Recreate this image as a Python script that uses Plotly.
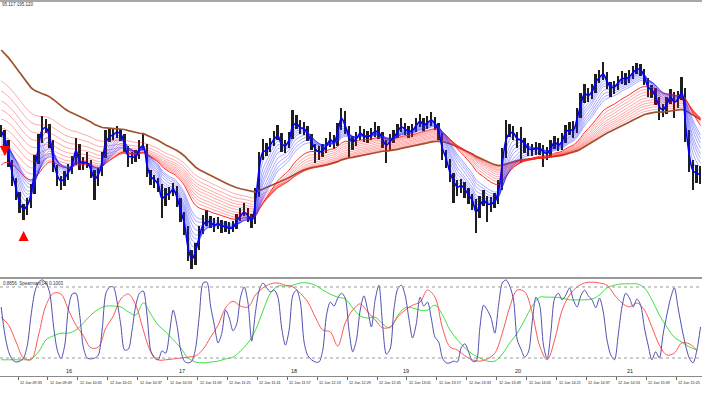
import plotly.graph_objects as go

# ---------------- data ----------------
first_bar = "09:24"      # first visible 2-minute bar
bar_step = 2             # minutes per bar

closes = [195.168, 195.158, 195.138, 195.120, 195.106, 195.092, 195.089, 195.096, 195.110, 195.140,
          195.160, 195.176, 195.173, 195.158, 195.132, 195.120, 195.117, 195.123, 195.130, 195.138,
          195.154, 195.135, 195.137, 195.137, 195.128, 195.118, 195.127, 195.143, 195.164, 195.165,
          195.166, 195.169, 195.165, 195.152, 195.140, 195.143, 195.143, 195.154, 195.155, 195.128,
          195.120, 195.119, 195.114, 195.097, 195.106, 195.107, 195.112, 195.100, 195.085, 195.072,
          195.044, 195.037, 195.052, 195.068, 195.079, 195.080, 195.077, 195.074, 195.077, 195.073,
          195.073, 195.071, 195.073, 195.081, 195.086, 195.089, 195.083, 195.078, 195.105, 195.142,
          195.154, 195.150, 195.157, 195.163, 195.165, 195.153, 195.154, 195.162, 195.179, 195.177,
          195.171, 195.171, 195.164, 195.155, 195.149, 195.147, 195.150, 195.156, 195.162, 195.157,
          195.172, 195.186, 195.172, 195.159, 195.157, 195.162, 195.169, 195.163, 195.163, 195.166,
          195.170, 195.167, 195.158, 195.153, 195.160, 195.164, 195.170, 195.175, 195.170, 195.168,
          195.170, 195.176, 195.180, 195.174, 195.178, 195.181, 195.175, 195.165, 195.146, 195.138,
          195.123, 195.116, 195.111, 195.115, 195.109, 195.103, 195.098, 195.084, 195.097, 195.101,
          195.095, 195.096, 195.100, 195.113, 195.145, 195.168, 195.169, 195.167, 195.159, 195.160,
          195.154, 195.150, 195.150, 195.152, 195.151, 195.147, 195.146, 195.154, 195.160, 195.154,
          195.160, 195.171, 195.171, 195.170, 195.185, 195.200, 195.210, 195.204, 195.210, 195.221,
          195.224, 195.227, 195.216, 195.211, 195.213, 195.219, 195.223, 195.221, 195.224, 195.229,
          195.232, 195.230, 195.221, 195.209, 195.209, 195.201, 195.190, 195.189, 195.198, 195.205,
          195.196, 195.202, 195.210, 195.165, 195.135, 195.124, 195.126, 195.125]

highs = [195.175, 195.170, 195.160, 195.140, 195.122, 195.108, 195.096, 195.102, 195.116, 195.145,
         195.166, 195.184, 195.181, 195.176, 195.160, 195.135, 195.124, 195.129, 195.136, 195.144,
         195.162, 195.156, 195.143, 195.148, 195.140, 195.130, 195.132, 195.148, 195.170, 195.171,
         195.172, 195.174, 195.171, 195.166, 195.154, 195.148, 195.150, 195.160, 195.167, 195.156,
         195.130, 195.125, 195.122, 195.116, 195.112, 195.113, 195.117, 195.114, 195.102, 195.088,
         195.074, 195.050, 195.057, 195.074, 195.085, 195.090, 195.084, 195.082, 195.083, 195.080,
         195.079, 195.078, 195.079, 195.086, 195.092, 195.097, 195.092, 195.086, 195.112, 195.148,
         195.161, 195.157, 195.162, 195.169, 195.175, 195.167, 195.160, 195.168, 195.190, 195.185,
         195.180, 195.178, 195.174, 195.166, 195.156, 195.154, 195.156, 195.162, 195.168, 195.165,
         195.177, 195.192, 195.189, 195.174, 195.164, 195.168, 195.174, 195.171, 195.169, 195.172,
         195.178, 195.174, 195.168, 195.160, 195.166, 195.170, 195.176, 195.182, 195.177, 195.174,
         195.176, 195.182, 195.186, 195.182, 195.184, 195.188, 195.183, 195.177, 195.167, 195.150,
         195.141, 195.127, 195.120, 195.121, 195.118, 195.112, 195.106, 195.101, 195.104, 195.110,
         195.104, 195.103, 195.107, 195.120, 195.152, 195.180, 195.176, 195.174, 195.168, 195.173,
         195.162, 195.157, 195.156, 195.158, 195.157, 195.155, 195.153, 195.160, 195.164, 195.162,
         195.167, 195.175, 195.178, 195.179, 195.192, 195.207, 195.216, 195.212, 195.216, 195.226,
         195.230, 195.238, 195.228, 195.218, 195.219, 195.224, 195.229, 195.227, 195.230, 195.234,
         195.237, 195.236, 195.231, 195.222, 195.215, 195.212, 195.203, 195.196, 195.203, 195.211,
         195.208, 195.209, 195.223, 195.212, 195.170, 195.140, 195.135, 195.134]

lows = [195.163, 195.153, 195.133, 195.114, 195.100, 195.087, 195.080, 195.085, 195.092, 195.106,
        195.136, 195.157, 195.167, 195.152, 195.128, 195.114, 195.110, 195.114, 195.120, 195.126,
        195.135, 195.130, 195.130, 195.132, 195.122, 195.100, 195.114, 195.124, 195.142, 195.158,
        195.160, 195.162, 195.159, 195.148, 195.133, 195.136, 195.138, 195.141, 195.150, 195.123,
        195.115, 195.112, 195.108, 195.082, 195.094, 195.100, 195.104, 195.093, 195.078, 195.065,
        195.039, 195.031, 195.035, 195.050, 195.066, 195.074, 195.072, 195.068, 195.071, 195.067,
        195.068, 195.066, 195.068, 195.071, 195.079, 195.084, 195.078, 195.072, 195.076, 195.103,
        195.140, 195.144, 195.148, 195.154, 195.160, 195.148, 195.147, 195.152, 195.161, 195.171,
        195.166, 195.165, 195.159, 195.150, 195.137, 195.140, 195.143, 195.147, 195.153, 195.151,
        195.154, 195.170, 195.166, 195.142, 195.150, 195.154, 195.160, 195.158, 195.157, 195.160,
        195.163, 195.161, 195.152, 195.137, 195.150, 195.157, 195.162, 195.168, 195.165, 195.162,
        195.163, 195.168, 195.173, 195.169, 195.171, 195.174, 195.170, 195.160, 195.140, 195.132,
        195.118, 195.097, 195.104, 195.107, 195.102, 195.096, 195.090, 195.067, 195.082, 195.094,
        195.078, 195.088, 195.092, 195.096, 195.110, 195.142, 195.163, 195.160, 195.152, 195.137,
        195.147, 195.144, 195.144, 195.145, 195.145, 195.133, 195.140, 195.143, 195.151, 195.149,
        195.150, 195.157, 195.165, 195.162, 195.167, 195.182, 195.197, 195.198, 195.201, 195.207,
        195.217, 195.220, 195.211, 195.203, 195.206, 195.210, 195.216, 195.215, 195.217, 195.221,
        195.226, 195.224, 195.215, 195.203, 195.202, 195.195, 195.180, 195.183, 195.186, 195.196,
        195.182, 195.192, 195.200, 195.158, 195.128, 195.110, 195.117, 195.116]

# moving averages: periods (1-minute) and their values at the first visible bar
blue_periods = [3, 5, 7, 9, 11, 13, 16, 19, 22, 25]
blue_start = [195.169, 195.167, 195.165, 195.163, 195.161, 195.159, 195.157, 195.155, 195.153, 195.151]
red_periods = [36, 41, 46, 51, 57, 63, 69, 75, 82, 90]
red_start = [195.135, 195.145, 195.154, 195.163, 195.172, 195.181, 195.190, 195.199, 195.209, 195.219]
brown_period = 100
brown_start = 195.250

# signal arrows
signal_times = ["09:26", "09:36"]
signal_prices = [195.144, 195.069]
signal_symbols = ["arrow-down", "arrow-up"]

# Spearman sub-window (blue every 2 min, red & green every 4 min)
spear_fast = [0.35, -0.28, -0.66, -0.84, -0.89, -0.87, -0.80, -0.51, 0.17, 0.69,
              0.91, 0.96, 0.89, 0.66, -0.08, -0.62, -0.82, -0.51, 0.33, 0.64,
              0.66, 0.17, -0.57, -0.80, -0.82, -0.80, -0.73, -0.17, 0.66, 0.80,
              0.80, 0.46, -0.06, -0.62, -0.60, -0.17, 0.39, 0.66, 0.71, 0.17,
              -0.64, -0.80, -0.84, -0.64, -0.69, -0.24, 0.28, -0.06, -0.62, -0.87,
              -0.91, -0.87, -0.57, 0.17, 0.89, 0.91, 0.37, -0.06, -0.46, -0.24,
              0.28, 0.10, -0.19, -0.03, 0.57, 0.80, 0.44, -0.42, 0.24, 0.73,
              0.89, 0.78, 0.69, 0.73, 0.57, -0.12, -0.51, -0.17, 0.62, 0.73,
              0.46, -0.44, -0.75, -0.84, -0.89, -0.89, -0.62, 0.17, 0.46, 0.37,
              0.55, 0.66, 0.55, -0.17, -0.66, -0.39, 0.28, 0.60, 0.28, -0.10,
              0.51, 0.84, -0.06, -0.71, -0.60, 0.28, 0.75, 0.84, 0.62, 0.10,
              -0.35, -0.03, 0.57, 0.37, 0.46, 0.10, -0.33, -0.44, -0.80, -0.91,
              -0.91, -0.87, -0.89, -0.57, -0.48, -0.66, -0.87, -0.87, -0.12, 0.39,
              0.28, 0.10, -0.24, 0.39, 0.89, 0.96, 0.82, 0.51, -0.39, -0.60,
              -0.78, -0.66, 0.01, 0.57, 0.39, -0.51, -0.82, -0.21, 0.55, 0.66,
              0.51, 0.62, 0.78, 0.51, 0.35, 0.60, 0.73, 0.60, 0.51, 0.33,
              0.55, 0.24, -0.39, -0.73, -0.84, -0.28, 0.35, 0.66, 0.55, 0.35,
              0.53, 0.39, -0.12, -0.51, -0.84, -0.66, -0.80, -0.26, 0.17, 0.55,
              0.78, 0.33, -0.12, -0.51, -0.80, -0.91, -0.64, -0.10]
spear_mid = [0.12, -0.06, -0.44, -0.80, -0.84, -0.28, 0.39, 0.66, 0.64, 0.28,
             -0.06, -0.30, -0.57, -0.55, -0.12, 0.15, 0.53, 0.64, 0.39, -0.17,
             -0.66, -0.84, -0.84, -0.82, -0.80, -0.78, -0.75, -0.60, -0.33, -0.06,
             0.33, 0.48, 0.37, 0.35, 0.62, 0.78, 0.87, 0.89, 0.84, 0.80,
             0.66, 0.46, 0.12, -0.17, -0.21, -0.53, -0.01, 0.28, 0.42, 0.24,
             0.06, -0.12, -0.10, 0.12, 0.28, 0.39, 0.46, 0.73, 0.57, -0.12,
             -0.55, -0.62, -0.75, -0.84, -0.87, -0.82, -0.69, -0.24, 0.35, 0.73,
             0.69, 0.21, -0.53, -0.84, -0.39, 0.28, 0.62, 0.80, 0.89, 0.91,
             0.89, 0.84, 0.62, 0.44, 0.35, 0.44, 0.28, -0.10, -0.51, -0.73,
             -0.69, -0.46, -0.48, -0.62]
spear_slow = [-0.84, -0.84, -0.84, -0.84, -0.82, -0.66, -0.39, -0.30, -0.24, -0.24,
              -0.17, -0.01, 0.17, 0.30, 0.37, 0.37, 0.35, 0.24, 0.17, 0.44,
              0.19, -0.06, -0.21, -0.39, -0.57, -0.80, -0.89, -0.91, -0.89, -0.87,
              -0.82, -0.78, -0.64, -0.46, -0.17, 0.26, 0.66, 0.82, 0.82, 0.84,
              0.89, 0.89, 0.84, 0.73, 0.64, 0.57, 0.53, 0.33, 0.15, 0.10,
              0.12, -0.03, -0.12, 0.15, 0.33, 0.33, 0.28, 0.28, 0.39, 0.17,
              -0.17, -0.39, -0.57, -0.71, -0.80, -0.87, -0.87, -0.71, -0.46, -0.24,
              0.06, 0.37, 0.57, 0.57, 0.57, 0.55, 0.51, 0.51, 0.51, 0.53,
              0.62, 0.78, 0.84, 0.87, 0.87, 0.87, 0.78, 0.51, 0.17, -0.10,
              -0.33, -0.44, -0.55, -0.62]
spear_levels = [0.8, -0.8]

tick_labels = ["12 Jun 09:17", "12 Jun 09:33", "12 Jun 09:49", "12 Jun 10:05", "12 Jun 10:21",
               "12 Jun 10:37", "12 Jun 10:53", "12 Jun 11:09", "12 Jun 11:25", "12 Jun 11:41",
               "12 Jun 11:57", "12 Jun 12:13", "12 Jun 12:29", "12 Jun 12:45", "12 Jun 13:01",
               "12 Jun 13:17", "12 Jun 13:33", "12 Jun 13:49", "12 Jun 14:05", "12 Jun 14:21",
               "12 Jun 14:37", "12 Jun 14:53", "12 Jun 15:09", "12 Jun 15:25"]
hour_labels = ["16", "17", "18", "19", "20", "21"]
hour_times = ["10:00", "11:00", "12:00", "13:00", "14:00", "15:00"]
header_text = "95.117 195.120"
sub_header = "0.8856  Spearman(14) 0.1003"

# ---------------- helpers ----------------
ORIGIN = 9 * 60 + 17


def tmin(hm):
    h, m = hm.split(":")
    return int(h) * 60 + int(m) - ORIGIN


t_first = tmin(first_bar)
bar_t = [t_first + bar_step * i for i in range(len(closes))]
fast_t = [t_first + bar_step * i for i in range(len(spear_fast))]
slow_t = [t_first + 2 * bar_step * i for i in range(len(spear_mid))]


def ema(values, period, start):
    a1 = 2.0 / (period + 1)
    a = 1 - (1 - a1) ** bar_step
    out = [start]
    for v in values[1:]:
        out.append(out[-1] + a * (v - out[-1]))
    return out


W, H = 702, 395
def py(pix):
    return 1 - pix / H


fig = go.Figure()

# bars
fig.add_trace(go.Bar(x=bar_t, y=[h - l for h, l in zip(highs, lows)], base=lows, width=1.0,
                     marker=dict(color="#1e1e1e", line=dict(width=0)), xaxis="x", yaxis="y",
                     hoverinfo="skip"))

# brown long MA
fig.add_trace(go.Scatter(x=bar_t, y=ema(closes, brown_period, brown_start), mode="lines",
                         line=dict(color="#a0522d", width=1.7), xaxis="x", yaxis="y"))
# red group
for i, (p, s) in enumerate(zip(red_periods, red_start)):
    fig.add_trace(go.Scatter(x=bar_t, y=ema(closes, p, s), mode="lines",
                             line=dict(color="rgba(255,20,20,0.9)" if i == 0 else "rgba(255,30,30,0.55)",
                                       width=1.0 if i == 0 else 0.7, shape="spline"),
                             xaxis="x", yaxis="y"))
# blue group
for i, (p, s) in enumerate(zip(blue_periods, blue_start)):
    if i == 0:
        continue
    fig.add_trace(go.Scatter(x=bar_t, y=ema(closes, p, s), mode="lines",
                             line=dict(color="rgba(30,30,255,0.55)", width=0.7, shape="spline"),
                             xaxis="x", yaxis="y"))
fig.add_trace(go.Scatter(x=bar_t, y=ema(closes, blue_periods[0], blue_start[0]), mode="lines",
                         line=dict(color="#0000ff", width=1.6, shape="spline"), xaxis="x", yaxis="y"))

# arrows
fig.add_trace(go.Scatter(x=[tmin(s) for s in signal_times], y=signal_prices, mode="markers",
                         marker=dict(symbol=signal_symbols, size=10, color="#ff0000",
                                     line=dict(width=0)), xaxis="x", yaxis="y"))

# Spearman lines
fig.add_trace(go.Scatter(x=slow_t, y=spear_slow, mode="lines",
                         line=dict(color="#3ee03e", width=1, shape="spline"), xaxis="x", yaxis="y2"))
fig.add_trace(go.Scatter(x=slow_t, y=spear_mid, mode="lines",
                         line=dict(color="#ff5555", width=1, shape="spline"), xaxis="x", yaxis="y2"))
fig.add_trace(go.Scatter(x=fast_t, y=spear_fast, mode="lines",
                         line=dict(color="#5050b0", width=1, shape="spline", smoothing=0.8),
                         xaxis="x", yaxis="y2"))

shapes = [
    dict(type="line", xref="paper", yref="paper", x0=0, x1=1, y0=py(1), y1=py(1),
         line=dict(color="#a8a8a8", width=2)),
    dict(type="line", xref="paper", yref="paper", x0=0, x1=1, y0=py(278), y1=py(278),
         line=dict(color="#9a9a9a", width=2)),
]
for lv in spear_levels:
    shapes.append(dict(type="line", xref="paper", yref="y2", x0=0, x1=1, y0=lv, y1=lv,
                       line=dict(color="#9a9a9a", width=1, dash="dot")))

annotations = []
for lab in tick_labels:
    annotations.append(dict(x=tmin(lab[-5:]), y=py(383), xref="x", yref="paper", text=lab,
                            showarrow=False, xanchor="left", yanchor="middle", xshift=0,
                            font=dict(family="Liberation Sans", size=3.8, color="#222")))
for lab, hm in zip(hour_labels, hour_times):
    annotations.append(dict(x=tmin(hm) + 0.5, y=py(371), xref="x", yref="paper", text=lab,
                            showarrow=False, xanchor="center", yanchor="middle",
                            font=dict(family="Liberation Sans", size=5.5, color="#222")))
annotations.append(dict(x=0, y=py(5), xref="paper", yref="paper", text=header_text,
                        showarrow=False, xanchor="left", yanchor="middle",
                        font=dict(family="Liberation Sans", size=4.5, color="#333")))
annotations.append(dict(x=0.002, y=py(283), xref="paper", yref="paper", text=sub_header,
                        showarrow=False, xanchor="left", yanchor="middle",
                        font=dict(family="Liberation Sans", size=4.5, color="#333")))

fig.update_layout(
    width=W, height=H, autosize=False,
    margin=dict(l=0, r=0, t=0, b=0),
    paper_bgcolor="white", plot_bgcolor="white",
    showlegend=False, bargap=0, hovermode=False,
    xaxis=dict(domain=[0, 1], range=[6.37, 381.8], anchor="y2", showgrid=False, zeroline=False,
               showline=True, linecolor="#8a8a8a", linewidth=1, ticks="outside", ticklen=3,
               tickcolor="#666", tickvals=[tmin(l[-5:]) for l in tick_labels],
               showticklabels=False),
    yaxis=dict(domain=[py(277), 1], range=[195.023, 195.300], visible=False, fixedrange=True),
    yaxis2=dict(domain=[py(376), py(279)], range=[-1.205, 0.98], visible=False),
    shapes=shapes, annotations=annotations,
)

fig.write_html("out.html", config={"displayModeBar": False},
               post_script="document.body.style.margin='0px';document.body.style.overflow='hidden';")
